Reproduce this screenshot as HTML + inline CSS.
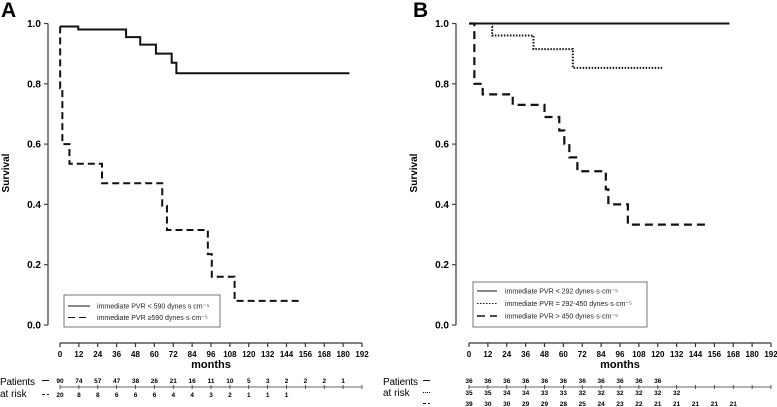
<!DOCTYPE html>
<html><head><meta charset="utf-8"><style>
body{margin:0;background:#fff}
svg{display:block;font-family:"Liberation Sans",Arial,sans-serif}
</style></head><body>
<svg id="c" width="777" height="407" viewBox="0 0 777 407" xmlns="http://www.w3.org/2000/svg"></svg>
<script>
// ---- data ----
const monthTicks=[0,12,24,36,48,60,72,84,96,108,120,132,144,156,168,180,192];
const survTicks=[0,0.2,0.4,0.6,0.8,1.0];
// Panel A
const aSolidT=[0,11.6,42,51,61,71,74,184];
const aSolidS=[0.99,0.98,0.955,0.93,0.90,0.87,0.835,0.835];
const aDashT=[0,0.1,1.5,6,26.7,65,68,94,96.5,111,153];
const aDashS=[0.99,0.785,0.6,0.535,0.47,0.395,0.315,0.235,0.16,0.08,0.08];
const aRisk1=[90,74,57,47,38,26,21,16,11,10,5,3,2,2,2,1];
const aRisk2=[20,8,8,6,6,6,4,4,3,2,1,1,1];
// Panel B
const bSolidT=[0,165.6];
const bSolidS=[1.0,1.0];
const bDotT=[14.6,14.7,41,66,123];
const bDotS=[0.99,0.96,0.915,0.853,0.853];
const bDashT=[0,3.4,8.7,27.8,48,57.4,60.6,63.8,68.9,87,88.6,101,152.5];
const bDashS=[1.0,0.8,0.765,0.73,0.69,0.645,0.6,0.556,0.51,0.45,0.40,0.333,0.333];
const bRisk1=[36,36,36,36,36,36,36,36,36,36,36];
const bRisk2=[35,35,34,34,33,33,32,32,32,32,32,32];
const bRisk3=[39,30,30,29,29,28,25,24,23,22,21,21,21,21,21];

const svg=document.getElementById('c');
const NS='http://www.w3.org/2000/svg';
function el(tag,attrs,parent,text){const e=document.createElementNS(NS,tag);for(const k in attrs)e.setAttribute(k,attrs[k]);if(text!==undefined)e.textContent=text;(parent||svg).appendChild(e);return e;}
function ys(v){return 325-v*301.5;}

function panel(p){
  const g=el('g',{});
  
  
  const xs=m=>p.x0+m*(302/192);
  const t=el('text',{x:p.lx,y:17,'font-size':21,'font-weight':'bold'},g,p.letter);
  
  
  const ya=el('line',{x1:p.ax,x2:p.ax,y1:ys(1),y2:ys(0),stroke:'#444','stroke-width':1.3},g);
  
  
  survTicks.forEach(v=>{
    el('line',{x1:p.ax-4,x2:p.ax,y1:ys(v),y2:ys(v),stroke:'#444','stroke-width':1.2},g);
    const tl=el('text',{x:p.ax-7,y:ys(v)+3.5,'font-size':10,'font-weight':'bold','text-anchor':'end'},g,v.toFixed(1));
    
    
  });
  const yt=el('text',{x:0,y:0,'font-size':10,'font-weight':'bold','text-anchor':'middle',transform:`translate(${p.ytx},173) rotate(-90)`},g,'Survival');
  
  
  const xa=el('line',{x1:xs(0),x2:xs(192),y1:343,y2:343,stroke:'#333','stroke-width':1.2},g);
  
  
  monthTicks.forEach(m=>{
    el('line',{x1:xs(m),x2:xs(m),y1:343,y2:347,stroke:'#333','stroke-width':1.2},g);
    const tl=el('text',{x:xs(m),y:357,'font-size':8,'font-weight':'bold','text-anchor':'middle'},g,m);
    
    
  });
  const xt=el('text',{x:xs(96),y:368,'font-size':11,'font-weight':'bold','text-anchor':'middle'},g,'months');
  
  
  p.series.forEach(s=>{
    let d='M'+xs(s.t[0])+','+ys(s.s[0]);
    for(let i=1;i<s.t.length;i++){d+=' H'+xs(s.t[i])+' V'+ys(s.s[i]);}
    const pa=el('path',{d:d,fill:'none',stroke:'#111','stroke-width':s.w,'stroke-dasharray':s.dash},g);
    
    
  });
  const lb=el('rect',{x:p.leg[0],y:p.leg[1],width:p.leg[2],height:p.leg[3],fill:'#fff',stroke:'#555','stroke-width':0.8},g);
  
  
  p.series.forEach((s,i)=>{
    const yy=p.leg[1]+p.legY0+i*p.legDy;
    el('line',{x1:p.leg[0]+4,x2:p.leg[0]+p.legSw,y1:yy,y2:yy,stroke:'#111','stroke-width':s.w>2?1.4:1,'stroke-dasharray':s.dash},g);
    const lt=el('text',{x:p.leg[0]+p.legTx,y:yy+2.5,'font-size':7,fill:'#222'},g,s.label);
    
    
  });
  const pt=el('text',{x:p.rx,y:385,'font-size':10,textLength:35},g,'Patients');
  
  
  el('text',{x:p.rx,y:p.ary,'font-size':10},g,'at risk');
  el('line',{x1:xs(0),x2:xs(192),y1:387,y2:387,stroke:'#333','stroke-width':0.8},g);
  monthTicks.forEach(m=>el('line',{x1:xs(m),x2:xs(m),y1:385,y2:389,stroke:'#333','stroke-width':0.8},g));
  p.risk.forEach((r,i)=>{
    el('line',{x1:p.dx,x2:p.dx+7,y1:r.y-2.5,y2:r.y-2.5,stroke:'#111','stroke-width':1,'stroke-dasharray':r.dash},g);
    r.v.forEach((v,j)=>{
      const nt=el('text',{x:xs(monthTicks[j]),y:r.y,'font-size':6.5,'font-weight':'bold','text-anchor':'middle'},g,v);
      
      
    });
  });
}

panel({name:'panel-a',letter:'A',lx:1,x0:60,ax:48,ytx:9,rx:0,dx:42,ary:397,
  leg:[64,295,156,32],legY0:11,legDy:11.5,legSw:26,legTx:33,
  series:[
    {name:'curve-pvr-below-590',t:aSolidT,s:aSolidS,w:2,dash:'none',label:'immediate PVR < 590 dynes s cm\u207B\u2075'},
    {name:'curve-pvr-above-590',t:aDashT,s:aDashS,w:2,dash:'7,4',label:'immediate PVR \u2265590 dynes\u00B7s\u00B7cm\u207B\u2075'}],
  risk:[{y:383,v:aRisk1,dash:'none'},{y:397,v:aRisk2,dash:'3,2'}]});

panel({name:'panel-b',letter:'B',lx:413,x0:469,ax:456,ytx:417,rx:383,dx:423,ary:396,
  leg:[473,282,174,45],legY0:9,legDy:12.5,legSw:24,legTx:32,
  series:[
    {name:'curve-pvr-below-292',t:bSolidT,s:bSolidS,w:2,dash:'none',label:'immediate PVR < 292 dynes\u00B7s\u00B7cm\u207B\u2075'},
    {name:'curve-pvr-292-450',t:bDotT,s:bDotS,w:2,dash:'1.5,1.5',label:'immediate PVR = 292-450 dynes\u00B7s\u00B7cm\u207B\u2075'},
    {name:'curve-pvr-above-450',t:bDashT,s:bDashS,w:2.2,dash:'8,5',label:'immediate PVR > 450 dynes\u00B7s\u00B7cm\u207B\u2075'}],
  risk:[{y:383,v:bRisk1,dash:'none'},{y:395,v:bRisk2,dash:'1,1'},{y:406,v:bRisk3,dash:'3,2'}]});
</script>
</body></html>
